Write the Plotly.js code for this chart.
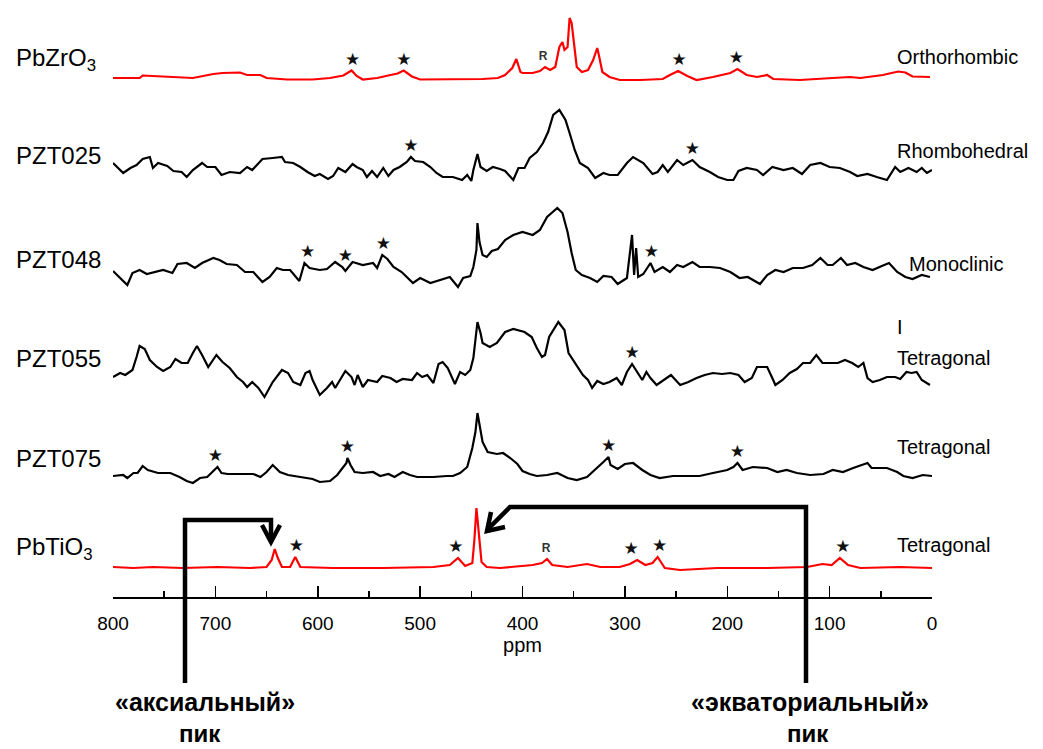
<!DOCTYPE html>
<html><head><meta charset="utf-8">
<script src="https://cdn.plot.ly/plotly-3.0.1.min.js"></script>
<style>html,body{margin:0;padding:0;background:#fff;}#chart{width:1043px;height:749px;}</style>
</head><body><div id="chart"></div>
<script>
// ---------- DATA (ppm, relative intensity) ----------
const sampleNames = ['PbZrO<sub>3</sub>','PZT025','PZT048','PZT055','PZT075','PbTiO<sub>3</sub>'];
const phaseNames = ['Orthorhombic','Rhombohedral','Monoclinic','Tetragonal','Tetragonal','Tetragonal'];
const xTicks = [800,700,600,500,400,300,200,100,0];

const zrPpm = [800,774,771,747,722,702,693,676,669,656, 650,630,605,588,575,567,562,556,542,529, 522,516,508,500,471,439,424,417,410,406, 402,400,390,383,378,373,368,364,361,359, 356,354,352,350,347,342,336,331,327,325, 322,315,305,285,263,256,248,239,230,214, 197,190,181,171,161,155,129,97,80,70, 48,33,26,19,2];
const zrVal = [-1,-1,1.5,0.5,-1,3,4,4.5,2,2, -1,-2.5,-2.5,-1,1.5,6.5,1,-2.5,-1,2, 3.5,6.5,0.5,-2.5,-2.5,-2,-1,2,9,18, 5,4,4,6,10,7,10,30,35,27, 30,59,54,37,10,5,7,17,29,20, 5,0,-3,-3,-2,2,6,1,-3,0, 4,8,2,0,2,-2,-3,-1,0,-1, 2,5.5,4.5,0.5,0];

const p25Ppm = [800,795,790,783,777,771,764,761,756,747, 741,733,728,722,713,708,700,694,686,676, 669,664,659,654,644,635,632,624,617,610, 603,598,590,585,580,573,566,562,556,552, 547,542,536,531,526,520,513,509,505,497, 490,484,478,468,459,454,450,448,444,441, 435,429,422,417,409,404,398,393,386,380, 375,370,364,358,354,349,344,336,329,321, 315,307,298,292,282,273,268,263,258,249, 243,234,227,217,209,200,194,189,181,171, 165,156,145,136,127,119,109,100,90,80, 73,63,54,44,36,31,23,15,10,5, 0];
const p25Val = [12,7,2,7,10,16,18,7,12,9, 4,3,-2,5,12,8,8,0,3,2, 8,5,10,16,17,18,13,12,8,3, -1,1,-4,-1,7,3,11,8,5,-2, 4,-2,7,-1,5,8,13,18,14,13, 8,2,-2,-2,-5,0,-6,5,21,8, 4,8,6,4,-5,7,7,17,23,32, 43,60,65,55,42,25,12,7,-3,2, 0,0,12,18,12,1,3,10,3,15, 10,15,8,3,-2,-5,-5,4,7,5, 0,8,5,7,1,10,12,8,7,3, -1,1,-2,-5,8,3,7,3,7,2, 5];

const p48Ppm = [800,793,786,781,774,767,759,751,742,737, 728,720,713,702,696,689,679,671,663,654, 647,640,634,627,618,613,608,598,591,583, 576,573,566,556,546,542,537,532,526,518, 507,500,490,481,471,463,458,451,448,445, 444,442,439,435,430,424,417,409,400,390, 383,376,366,361,356,352,348,342,334,327, 321,313,307,298,293,291,289,287,282,275, 271,263,256,249,243,234,227,217,207,197, 188,180,168,161,153,145,136,126,117,109, 102,97,89,83,75,67,58,49,42,34, 26,19,10,2];
const p48Val = [9,2,-5,7,10,6,8,10,7,16, 17,12,17,22,20,16,15,8,8,-2, 3,12,10,10,-1,17,12,10,11,18, 13,9,18,15,17,12,25,21,13,8, -3,2,-3,0,3,-7,2,4,13,30, 57,38,25,23,29,31,40,45,48,45, 50,63,72,67,48,27,10,5,2,-2, 4,3,-4,2,45,5,32,3,6,17, 8,13,8,15,13,18,13,13,12,8, 2,3,-4,5,10,8,12,12,15,22, 15,15,22,15,17,13,10,14,17,8, 3,1,5,3];

const p55Ppm = [800,793,788,781,777,774,769,764,757,751, 744,739,733,727,722,718,713,707,699,693, 686,679,673,669,664,658,652,644,635,629, 624,617,612,608,605,598,591,586,583,578, 573,567,564,561,556,551,542,537,529,523, 517,508,503,498,493,487,482,478,473,466, 461,456,451,448,446,444,441,439,432,425, 417,409,398,391,386,381,378,374,365,359, 355,349,341,336,332,327,321,315,308,303, 298,293,287,283,279,275,269,263,255,246, 238,230,222,214,205,197,189,183,176,171, 161,156,153,146,139,132,126,119,113,107, 100,92,85,78,72,67,63,58,51,44, 36,31,25,20,15,10,2];
const p55Val = [8,12,10,15,28,39,36,25,18,14, 18,26,22,22,32,39,30,18,30,23, 17,8,3,-2,3,-3,-12,3,15,12, 3,0,12,14,5,-10,-3,3,-3,5, 14,8,0,10,-2,5,3,9,7,3, 6,5,12,8,10,2,21,23,17,1, 13,10,15,27,45,63,52,42,38,42, 53,56,53,48,37,28,30,48,63,55, 32,22,10,5,-3,4,1,3,7,0, 13,21,12,5,13,7,0,4,10,0, 3,7,10,12,11,12,10,3,7,18, 18,7,0,5,12,16,22,22,30,22, 22,22,25,22,18,22,7,3,5,8, 8,6,13,12,13,5,0];

const p75Ppm = [800,790,786,780,776,771,766,756,744,735, 728,722,715,708,703,698,694,688,676,663, 656,650,644,637,629,617,605,598,588,581, 576,572,571,568,564,556,546,539,531,525, 517,510,503,487,474,468,461,454,449,446, 444,441,439,434,425,419,412,405,400,393, 386,376,366,356,347,337,327,321,316,314, 307,300,292,283,275,266,253,239,227,214, 200,194,190,185,175,161,151,142,132,119, 106,97,87,77,68,63,59,44,34,28, 19,9,0];
const p75Val = [1,2,-1,4,4,11,7,4,4,0, -4,-6,-1,0,5,10,4,3,3,3, 0,5,12,5,2,0,-2,-5,-4,2, 9,14,19,12,5,4,5,1,3,0, 5,2,0,0,1,1,4,10,29,45, 64,45,35,25,23,24,19,13,6,3, 1,2,4,-1,-3,0,9,15,20,12, 8,13,14,7,2,-1,1,1,1,4, 7,10,14,7,10,9,5,7,4,2, 3,7,5,9,12,14,9,9,5,1, -1,2,1];

const tiPpm = [800,780,761,732,698,666,650,645,642,639, 635,627,622,617,585,536,487,471,463,456, 449,447,445,443,440,435,422,390,381,376, 371,356,337,324,305,295,288,280,273,268, 261,246,210,161,122,107,98,90,82,70, 31,0];
const tiVal = [0,-1,0,-1,0,-1,0,7,18,9, 0,0,10,0,-1,-1,0,2,9,1, 4,27,59,34,5,0,-1,2,4,8, 2,0,3,0,0,3,7,2,4,10, -1,-3,-1,-1,0,3,2,9,2,-1, 0,-1];

// peak markers (ppm)
const starPpm = [[566,516,247,191],[509,234],[610,573,536,274],[293],[700,571,316,190],[621,465,294,266,87]];
const rPpm = [[380],[],[],[],[],[377]];

// ---------- LAYOUT GEOMETRY (pixels) ----------
const L=113, R=932, T=5, B=597;
const fx = px => (px-L)/(R-L);
const fy = py => (B-py)/(B-T);
const baselinePx = [77,175,280,385,477,567];
const offsets = baselinePx.map(p => B-p);
const RED='#ff0000', BLK='#000000';
const series = [
  {ppm:zrPpm, val:zrVal, color:RED},
  {ppm:p25Ppm, val:p25Val, color:BLK},
  {ppm:p48Ppm, val:p48Val, color:BLK},
  {ppm:p55Ppm, val:p55Val, color:BLK},
  {ppm:p75Ppm, val:p75Val, color:BLK},
  {ppm:tiPpm, val:tiVal, color:RED}
];

const traces = series.map((s,i) => ({
  type:'scatter', mode:'lines', x:s.ppm, y:s.val.map(v=>v+offsets[i]),
  line:{color:s.color, width:2.2}, hoverinfo:'skip', showlegend:false
}));

function peakNear(s, p){
  let m=-1e9;
  s.ppm.forEach((q,k)=>{ if(Math.abs(q-p)<=6 && s.val[k]>m) m=s.val[k]; });
  return m;
}
const sx=[], sy=[], rx=[], ry=[];
series.forEach((s,i)=>{
  starPpm[i].forEach(p=>{ sx.push(p); sy.push(offsets[i]+peakNear(s,p)+10); });
  rPpm[i].forEach(p=>{ rx.push(p); ry.push(offsets[i]+peakNear(s,p)+10); });
});
traces.push({type:'scatter', mode:'text', x:sx, y:sy, text:sx.map(()=>'★'),
  textfont:{family:'DejaVu Sans', size:17, color:'#111'}, hoverinfo:'skip', showlegend:false, cliponaxis:false});
traces.push({type:'scatter', mode:'text', x:rx, y:ry, text:rx.map(()=>'<b>R</b>'),
  textfont:{family:'Liberation Sans, Arial', size:12, color:'#333'}, hoverinfo:'skip', showlegend:false, cliponaxis:false});

const annotations = [];
const nameY = [60,155,259,358,458,548];
sampleNames.forEach((n,i)=>annotations.push({xref:'paper',yref:'paper',x:fx(14),y:fy(nameY[i]),xanchor:'left',yanchor:'middle',
  text:n, showarrow:false, font:{family:'Liberation Sans, Arial', size:24, color:'#000'}}));
const phaseX = [895,895,907,895,895,895];
const phaseY = [57,151,264,358,447,545];
phaseNames.forEach((n,i)=>annotations.push({xref:'paper',yref:'paper',x:fx(phaseX[i]),y:fy(phaseY[i]),xanchor:'left',yanchor:'middle',
  text:n, showarrow:false, font:{family:'Liberation Sans, Arial', size:20, color:'#000'}}));
annotations.push({xref:'paper',yref:'paper',x:fx(895),y:fy(327),xanchor:'left',yanchor:'middle',text:'I',showarrow:false,
  font:{family:'Liberation Sans, Arial', size:20, color:'#000'}});
const bottomTexts = [['«аксиальный»',205,702,25],['пик',200,733,24],['«экваториальный»',810,702,25],['пик',808,733,24]];
bottomTexts.forEach(b=>annotations.push({xref:'paper',yref:'paper',x:fx(b[1]),y:fy(b[2]),xanchor:'center',yanchor:'middle',
  text:'<b>'+b[0]+'</b>', showarrow:false, font:{family:'Liberation Sans, Arial', size:b[3], color:'#000'}}));

const P = (x,y)=>fx(x)+','+fy(y);
const arrowLine = {color:'#000', width:4.5};
const shapes = [
  {type:'path', xref:'paper', yref:'paper', path:'M'+P(185,683)+' L'+P(185,520)+' L'+P(271,520)+' L'+P(271,540), line:arrowLine},
  {type:'path', xref:'paper', yref:'paper', path:'M'+P(262,525)+' L'+P(271,542)+' L'+P(280,525), line:arrowLine},
  {type:'path', xref:'paper', yref:'paper', path:'M'+P(806,683)+' L'+P(806,507)+' L'+P(510,507)+' L'+P(488,529), line:arrowLine},
  {type:'path', xref:'paper', yref:'paper', path:'M'+P(491,512)+' L'+P(487,531)+' L'+P(505,527), line:arrowLine}
];

const layout = {
  width:1043, height:749, paper_bgcolor:'#fff', plot_bgcolor:'#fff',
  margin:{l:L, r:1043-R, t:T, b:749-B},
  xaxis:{range:[800,0], tickvals:xTicks, ticktext:xTicks.map(String), showline:true, linecolor:'#000', linewidth:1.5,
    ticks:'inside', ticklen:11, tickwidth:1.5, tickcolor:'#000', showgrid:false, zeroline:false,
    ticklabelstandoff:9,
    minor:{dtick:50, tick0:0, ticks:'inside', ticklen:6, tickwidth:1.5, tickcolor:'#000', showgrid:false},
    tickfont:{family:'Liberation Sans, Arial', size:19, color:'#000'},
    title:{text:'ppm', font:{family:'Liberation Sans, Arial', size:20, color:'#000'}, standoff:4}, fixedrange:true},
  yaxis:{range:[0,B-T], visible:false, fixedrange:true},
  annotations, shapes, showlegend:false
};
Plotly.newPlot('chart', traces, layout, {displayModeBar:false, staticPlot:true});
</script></body></html>
